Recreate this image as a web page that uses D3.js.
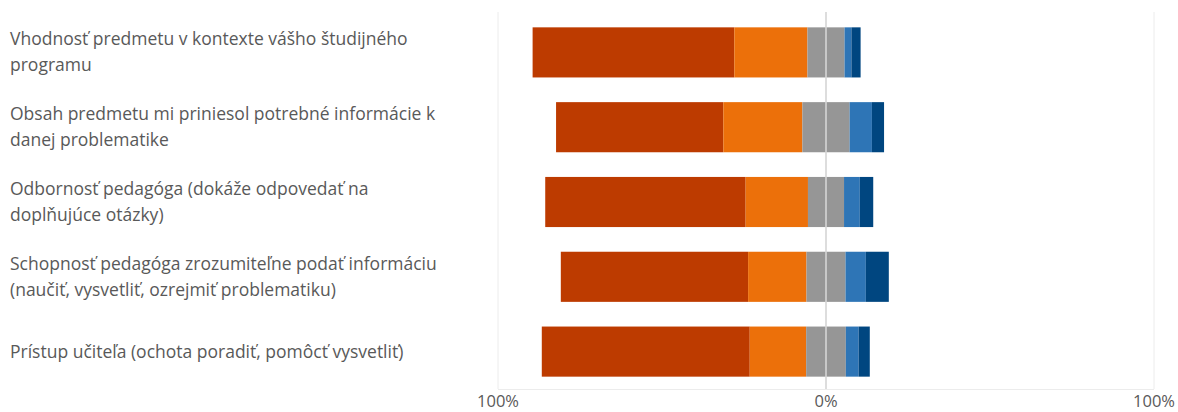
<!DOCTYPE html>
<html>
<head>
<meta charset="utf-8">
<script src="https://cdn.jsdelivr.net/npm/d3@7"></script>
<style>
  body { margin: 0; background: #fff; }
  svg text { font-family: "Open Sans", "Noto Sans", sans-serif; fill: #595959; }
</style>
</head>
<body>
<svg id="chart" width="1178" height="412"></svg>
<script>
//// categories (label lines)
const questions = [
  ["Vhodnosť predmetu v kontexte vášho študijného", "programu"],
  ["Obsah predmetu mi priniesol potrebné informácie k", "danej problematike"],
  ["Odbornosť pedagóga (dokáže odpovedať na", "doplňujúce otázky)"],
  ["Schopnosť pedagóga zrozumiteľne podať informáciu", "(naučiť, vysvetliť, ozrejmiť problematiku)"],
  ["Prístup učiteľa (ochota poradiť, pomôcť vysvetliť)"]
];

//// series values in percent, left to right
const strongNeg = [61.5, 51.0, 61.1, 57.1, 63.4];
const neg       = [22.3, 24.1, 19.0, 17.8, 17.2];
const neutral   = [11.3, 14.4, 11.0, 11.9, 12.1];
const pos       = [2.1, 6.8, 4.8, 6.2, 3.9];
const strongPos = [2.8, 3.7, 4.1, 7.0, 3.4];

const tickValues = [-100, 0, 100];
const tickLabels = ["100%", "0%", "100%"];

const colors = ["#bd3b00", "#ec700a", "#969696", "#969696", "#2e75b6", "#004680"];

const svg = d3.select("#chart");

const x = d3.scaleLinear().domain([-100, 100]).range([498, 1154]);
const y = d3.scaleBand()
  .domain(d3.range(questions.length))
  .range([15, 389])
  .paddingInner(0.33)
  .paddingOuter(0.165);

//// gridlines
svg.append("g").selectAll("line")
  .data(tickValues)
  .join("line")
  .attr("x1", d => x(d)).attr("x2", d => x(d))
  .attr("y1", 12).attr("y2", 389)
  .attr("stroke", d => d === 0 ? "#d9d9d9" : "#ececec")
  .attr("stroke-width", 1);

svg.append("line")
  .attr("x1", x(-100)).attr("x2", x(100))
  .attr("y1", 389.5).attr("y2", 389.5)
  .attr("stroke", "#ececec");

//// build segments: start at -(strongNeg+neg+neutral/2)
const rows = questions.map((q, i) => {
  const parts = [strongNeg[i], neg[i], neutral[i] / 2, neutral[i] / 2, pos[i], strongPos[i]];
  let start = -(strongNeg[i] + neg[i] + neutral[i] / 2);
  return parts.map((v, k) => {
    const seg = { i, k, x0: start, x1: start + v };
    start += v;
    return seg;
  });
});

svg.append("g").selectAll("g")
  .data(rows)
  .join("g")
  .selectAll("rect")
  .data(d => d)
  .join("rect")
  .attr("x", d => x(d.x0))
  .attr("width", d => x(d.x1) - x(d.x0))
  .attr("y", d => y(d.i))
  .attr("height", y.bandwidth())
  .attr("fill", d => colors[d.k]);

//// zero line over the neutral segment
svg.append("line")
  .attr("x1", x(0)).attr("x2", x(0))
  .attr("y1", 12).attr("y2", 389)
  .attr("stroke", "#d9d9d9")
  .attr("stroke-width", 1.5);

//// category labels
const lab = svg.append("g").selectAll("text")
  .data(questions)
  .join("text")
  .attr("x", 10)
  .attr("font-size", 17.5)
  .attr("y", (d, i) => y(i) + y.bandwidth() / 2 - (d.length - 1) * 13 + 6);

lab.selectAll("tspan")
  .data(d => d)
  .join("tspan")
  .attr("x", 10)
  .attr("dy", (d, j) => j === 0 ? 0 : 26)
  .text(d => d);

//// axis tick labels
svg.append("g").selectAll("text")
  .data(tickValues)
  .join("text")
  .attr("x", d => x(d))
  .attr("y", 407)
  .attr("text-anchor", "middle")
  .attr("font-size", 16.5)
  .text((d, i) => tickLabels[i]);
</script>
</body>
</html>
